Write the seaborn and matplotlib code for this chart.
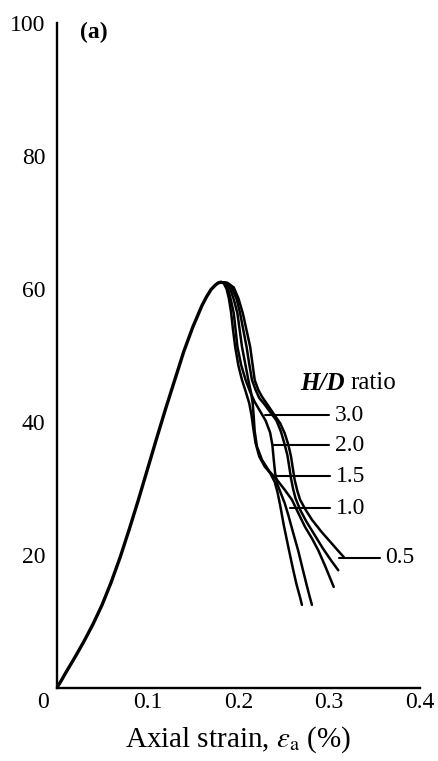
import matplotlib
matplotlib.use("Agg")
import matplotlib.pyplot as plt
import seaborn as sns
import pandas as pd

# ---- data ----
rise_strain = [0.000, 0.005, 0.010, 0.020, 0.030, 0.040, 0.050, 0.060, 0.070, 0.080,
               0.090, 0.100, 0.110, 0.120, 0.130, 0.140, 0.150, 0.160, 0.165,
               0.170, 0.175, 0.178, 0.181]
rise_stress = [0.0, 1.1, 2.3, 4.6, 7.0, 9.6, 12.5, 15.9, 19.7, 23.9,
               28.3, 32.9, 37.5, 42.0, 46.3, 50.6, 54.3, 57.5, 58.8,
               59.9, 60.6, 60.9, 61.0]

# five post-peak branches
a_strain = [0.181, 0.184, 0.187, 0.1895, 0.192, 0.194, 0.1965, 0.200, 0.204, 0.208,
            0.212, 0.2145, 0.2165, 0.219, 0.223, 0.229, 0.235, 0.240, 0.243,
            0.246, 0.250, 0.255, 0.260, 0.264, 0.268, 0.270]
a_stress = [61.0, 60.8, 60.0, 58.6, 56.5, 54.0, 51.3, 48.5, 46.3, 44.6,
            42.8, 41.0, 39.0, 36.8, 34.8, 33.3, 32.3, 31.0, 29.5,
            27.5, 24.5, 21.2, 18.0, 15.6, 13.6, 12.5]

b_strain = [0.181, 0.185, 0.189, 0.192, 0.195, 0.197, 0.199, 0.203, 0.208, 0.213,
            0.218, 0.224, 0.230, 0.235, 0.2375, 0.239, 0.2405, 0.243, 0.247,
            0.251, 0.255, 0.260, 0.266, 0.271, 0.275, 0.278, 0.281]
b_stress = [61.0, 60.8, 59.8, 58.2, 56.3, 53.8, 51.3, 48.6, 46.3, 44.5,
            43.0, 41.6, 40.2, 38.4, 36.5, 34.3, 32.3, 30.6, 29.2,
            27.8, 26.0, 23.5, 20.6, 17.8, 15.6, 14.0, 12.5]

c_strain = [0.181, 0.186, 0.191, 0.195, 0.199, 0.2015, 0.204, 0.2075, 0.211, 0.214,
            0.2158, 0.2168, 0.218, 0.2205, 0.226, 0.234, 0.2425, 0.251, 0.259,
            0.266, 0.2735, 0.281, 0.288, 0.296, 0.305]
c_stress = [61.0, 60.9, 60.0, 58.4, 56.3, 53.8, 51.3, 48.8, 46.3, 44.4,
            42.8, 41.0, 38.6, 36.3, 34.3, 32.6, 31.3, 29.8, 28.3,
            26.3, 24.2, 22.5, 20.7, 18.2, 15.2]

d_strain = [0.181, 0.187, 0.193, 0.198, 0.202, 0.2055, 0.209, 0.212, 0.215, 0.219,
            0.223, 0.229, 0.236, 0.242, 0.247, 0.251, 0.254, 0.256, 0.258,
            0.2605, 0.263, 0.268, 0.275, 0.284, 0.293, 0.302, 0.310]
d_stress = [61.0, 60.9, 60.1, 58.5, 56.3, 53.8, 51.3, 48.7, 46.3, 44.8,
            43.6, 42.6, 41.3, 40.2, 38.5, 36.6, 35.0, 33.3, 31.5,
            29.8, 28.5, 26.8, 25.0, 23.0, 21.0, 19.2, 17.7]

e_strain = [0.181, 0.188, 0.195, 0.200, 0.205, 0.209, 0.213, 0.2155, 0.218, 0.222,
            0.226, 0.232, 0.240, 0.246, 0.251, 0.255, 0.258, 0.260, 0.262,
            0.265, 0.268, 0.274, 0.281, 0.292, 0.303, 0.310, 0.316]
e_stress = [61.0, 60.9, 60.2, 58.6, 56.3, 53.8, 51.3, 48.8, 46.3, 44.8,
            43.8, 42.6, 41.0, 39.8, 38.3, 36.6, 34.8, 33.0, 31.3,
            29.6, 28.3, 26.8, 25.3, 23.4, 21.7, 20.6, 19.7]

ratio_labels = ["3.0", "2.0", "1.5", "1.0", "0.5"]
leader_y = [41.0, 36.5, 31.8, 27.0, 19.6]
leader_x0 = [0.2295, 0.2385, 0.242, 0.257, 0.311]
leader_x1 = [0.300, 0.300, 0.301, 0.301, 0.356]

x_ticks = [0.1, 0.2, 0.3, 0.4]
x_ticklabels = ["0.1", "0.2", "0.3", "0.4"]
y_ticks = [20, 40, 60, 80, 100]
y_ticklabels = ["20", "40", "60", "80", "100"]

# ---- build long table ----
frames = [pd.DataFrame({"strain": rise_strain, "stress": rise_stress, "curve": "rise"})]
for name, xs, ys in [("a", a_strain, a_stress), ("b", b_strain, b_stress),
                     ("c", c_strain, c_stress), ("d", d_strain, d_stress),
                     ("e", e_strain, e_stress)]:
    frames.append(pd.DataFrame({"strain": xs, "stress": ys, "curve": name}))
df = pd.concat(frames, ignore_index=True)

sns.set_theme(style="white")
plt.rcParams["font.family"] = ["Liberation Serif", "DejaVu Serif"]
plt.rcParams["mathtext.fontset"] = "stix"
plt.rcParams["text.color"] = "black"
plt.rcParams["axes.labelcolor"] = "black"

fig = plt.figure(figsize=(4.38, 7.61), dpi=100)
ax = fig.add_axes([0.1294, 0.0959, 0.9589 - 0.1294, 0.9702 - 0.0959])

for name, sub in df.groupby("curve", sort=False):
    lw = 2.4 if name == "rise" else 1.8
    sns.lineplot(data=sub, x="strain", y="stress", sort=False, estimator=None,
                 color="black", linewidth=lw, ax=ax, legend=False)

for lab, ly, lx0, lx1 in zip(ratio_labels, leader_y, leader_x0, leader_x1):
    ax.plot([lx0, lx1], [ly, ly], color="black", linewidth=1.5)
    ax.text(lx1 + 0.006, ly, lab, ha="left", va="center", fontsize=17)

t_hd = ax.text(0.268, 45.8, "H/D", ha="left", va="center", fontsize=18,
               fontstyle="italic", fontweight="bold")
ax.annotate("ratio", xy=(1, 0.5), xycoords=t_hd, xytext=(4, 0),
            textcoords="offset points", ha="left", va="center", fontsize=18)
ax.text(0.026, 98.5, "(a)", ha="left", va="center", fontsize=17, fontweight="bold")
ax.text(-0.015, -2.2, "0", ha="center", va="center", fontsize=17, clip_on=False)

ax.set_xlim(0, 0.4)
ax.set_ylim(0, 100)
ax.set_xticks(x_ticks)
ax.set_xticklabels(x_ticklabels)
ax.set_yticks(y_ticks)
ax.set_yticklabels(y_ticklabels)
ax.tick_params(axis="both", direction="in", length=14, width=1.5, labelsize=17,
               colors="black")
ax.tick_params(axis="y", pad=8)
ax.tick_params(axis="x", pad=3)
for s in ["top", "right"]:
    ax.spines[s].set_visible(False)
for s in ["left", "bottom"]:
    ax.spines[s].set_linewidth(1.7)
    ax.spines[s].set_color("black")
ax.set_xlabel(r"Axial strain, $\epsilon_{\rm a}$ (%)", fontsize=21, labelpad=8,
              color="black")
ax.set_ylabel("")
ax.grid(False)

fig.savefig("out.png", dpi=100, facecolor="white")
